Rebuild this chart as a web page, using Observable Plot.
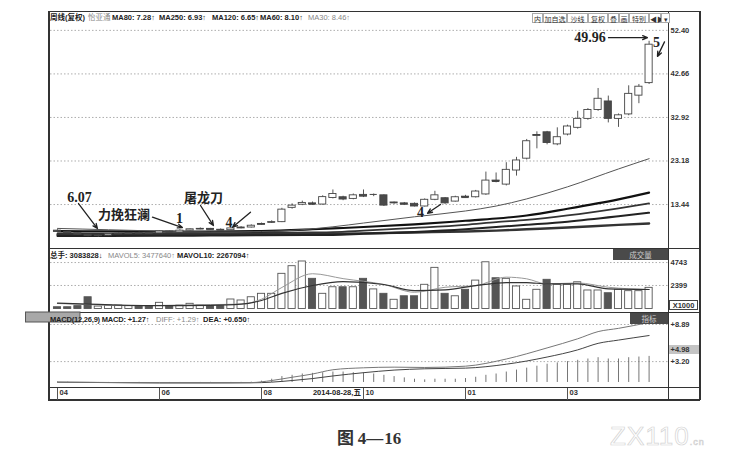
<!DOCTYPE html>
<html><head><meta charset="utf-8">
<script src="https://cdn.jsdelivr.net/npm/d3@7"></script>
<script src="https://cdn.jsdelivr.net/npm/@observablehq/plot@0.6"></script>
<style>
html,body{margin:0;padding:0;background:#fff;}
#wrap{position:relative;width:739px;height:463px;overflow:hidden;background:#fff;font-family:"Liberation Sans",Arial,"Noto Sans CJK SC",sans-serif;color:#222;}
.a{position:absolute;white-space:nowrap;z-index:2;}
.hdr{font-size:7.5px;font-weight:bold;line-height:9px;color:#222;}
.lt{font-weight:normal;color:#888;}
.ln{position:absolute;background:#333;z-index:0;}
.btn{position:absolute;top:13px;height:10px;border:1px solid #aaa;font-size:7px;line-height:10px;text-align:center;color:#333;font-family:"Noto Sans CJK SC",sans-serif;box-sizing:border-box;z-index:2;background:#fff;}
.panel{position:absolute;z-index:1;}
.panel svg{overflow:visible;}
</style></head><body><div id="wrap"></div>
<script>
// ---------- data ----------
const opens  = [7.6,7.3,7.0,6.7,6.4,6.5,6.8,6.9,7.1,7.05,7.0,7.4,7.2,7.6,7.9,8.0,7.8,7.7,8.1,8.3,8.9,9.4,9.5,12.7,13.4,13.7,13.44,14.9,15.07,14.7,15.6,15.7,15.5,13.7,13.7,13.6,13.0,14.5,14.85,14.1,15.2,15.07,15.7,18.8,17.9,21.05,23.7,28.8,29.6,26.9,29.1,30.6,32.6,34.6,36.5,32.6,33.6,37.8,40.6];
const closes = [7.3,7.0,6.7,6.4,6.5,6.8,6.9,7.1,7.0,6.95,7.4,7.2,7.6,7.9,8.0,7.8,7.7,8.1,8.3,8.7,9.1,9.5,12.3,13.2,13.8,13.5,15.1,15.8,14.56,15.5,15.2,15.7,13.2,13.9,13.5,13.0,14.5,15.5,13.7,15.07,15.0,16.35,18.8,18.6,21.2,23.3,27.6,29.0,27.2,28.5,30.9,32.6,34.6,37.1,32.6,33.4,38.2,39.8,49.2];
const highs  = [7.8,7.4,7.1,6.8,6.7,6.9,7.1,7.2,7.3,7.2,7.5,7.5,7.8,8.0,8.2,8.1,8.0,8.3,8.5,8.9,9.3,9.8,12.6,13.6,14.2,14.0,15.4,16.7,15.3,15.8,16.7,15.8,15.6,14.0,13.9,13.8,14.7,16.4,15.0,15.3,15.5,16.6,20.7,20.5,22.8,24.0,28.0,29.7,29.8,30.6,31.2,34.3,34.9,39.4,37.7,33.7,40.0,40.3,49.96];
const lows   = [7.2,6.9,6.5,6.2,6.07,6.4,6.7,6.8,6.9,6.8,6.9,7.1,7.1,7.5,7.8,7.7,7.6,7.6,8.0,8.2,8.8,9.2,9.4,12.4,13.2,13.3,13.3,14.7,14.3,14.5,15.0,15.2,13.0,13.5,13.3,12.9,12.9,14.3,13.5,14.0,14.9,14.9,15.5,18.3,17.6,19.8,23.4,25.9,26.8,26.6,28.8,30.3,32.3,34.3,31.7,30.7,33.3,36.0,40.3];
const volumes = [180,180,290,1200,250,350,350,290,250,250,630,250,350,530,350,290,290,970,870,1200,1550,1550,3590,4370,4850,3080,1550,2220,2220,2220,3080,2000,1550,940,1300,1300,2470,4200,1550,1300,1960,2900,4770,3140,3080,2300,940,1960,2980,2470,2470,2730,1890,1890,1610,1960,1820,1820,2160];
const macdHist = [0.05,0.04,-0.03,-0.05,-0.06,-0.04,-0.02,0,0.02,0,-0.02,-0.03,-0.01,0,0.01,0.02,0,0.01,0.02,0.05,0.2,0.5,0.9,1.1,1.3,1.4,1.5,1.6,1.6,1.5,1.5,1.3,1.1,0.9,0.7,0.5,0.4,0.5,0.5,0.5,0.6,0.8,1.1,1.3,1.6,1.9,2.2,2.5,2.8,3.0,3.2,3.4,3.6,3.8,3.6,3.6,3.8,3.9,4.0];

// moving averages at sample candles
const maIdx  = [0,5,10,15,20,25,27,30,35,40,43,46,50,55,58];
const ma30   = [8.1,7.8,7.5,7.3,7.4,8.0,8.46,9.3,10.7,12.0,13.1,14.7,17.4,21.4,23.7];
const ma60   = [7.5,7.45,7.4,7.4,7.5,7.9,8.1,8.4,9.0,9.8,10.3,11.0,12.5,14.6,16.1];
const ma80   = [7.0,7.0,7.0,7.05,7.1,7.2,7.28,7.6,8.2,8.9,9.5,10.0,11.0,12.6,13.7];
const ma120  = [6.4,6.42,6.45,6.5,6.55,6.62,6.65,6.9,7.3,7.9,8.4,8.9,9.6,10.8,11.6];
const ma250  = [6.7,6.72,6.75,6.8,6.85,6.9,6.93,7.0,7.2,7.4,7.6,7.9,8.3,8.9,9.2];

const volIdx  = [0,3,6,9,12,15,18,20,22,25,28,32,35,38,41,44,46,48,51,54,58];
const mavol5  = [560,450,350,350,400,450,500,1000,2200,3600,3100,2500,1710,2220,2390,3250,3080,2560,2660,2220,1990];
const mavol10 = [600,500,400,350,350,370,500,870,1600,2400,2800,2500,1880,1950,2390,2700,2700,2560,2560,2050,1990];

const difIdx = [0,5,10,15,19,21,23,25,27,30,33,36,40,44,48,51,53,55,58];
const diff   = [0.05,0,-0.08,-0.08,-0.02,0.3,0.8,1.3,1.95,2.25,2.35,2.3,2.5,3.6,5.3,6.7,7.8,8.3,9.2];
const deaIdx = [0,10,19,21,23,25,27,30,33,36,40,44,48,51,53,55,58];
const dea    = [0.05,-0.05,-0.05,0.05,0.3,0.6,1.0,1.5,1.9,2.1,2.2,2.8,3.9,5.0,6.0,6.5,7.2];

const priceTicks = [52.40,42.66,32.92,23.18,13.44];
const volTicks = [4743,2399];
const macdTicks = [8.89,4.98,3.20];
const monthIdx = [0,10,20,30,40,50];
const monthLabels = ["04","06","08","10","01","03"];
const cursorIdx = 27;
const cursorLabel = "2014-08-28,五";

const annoText = ["6.07","力挽狂澜","1","屠龙刀","4","4","49.96","5"];
const annoI = [2.16,6.52,11.96,14.31,16.81,35.59,52.21,58.73];
const annoV = [15.01,11.2,10.31,14.9,9.41,11.65,50.83,49.78];
const arrI1 = [2.06,9.31,14.02,18.92,37.55,54.02,59.51];
const arrV1 = [13.66,10.6,13.22,11.72,13.44,50.77,49.83];
const arrI2 = [3.92,12.25,15.29,17.16,36.27,57.84,58.82];
const arrV2 = [8.07,8.29,8.74,8.36,11.49,50.77,46.58];

// ---------- build ----------
const wrap = document.getElementById("wrap");
const N = opens.length;
const candles = opens.map((o,i)=>({i, o, c:closes[i], h:highs[i], l:lows[i], v:volumes[i], m:macdHist[i], down: closes[i] < o}));
const X = {type:"linear", domain:[-0.5, N-0.5], range:[3.9, 605.7]};
const font = "Liberation Sans, Arial, sans-serif";
const series = (idx, vals) => idx.map((i,k)=>({i, v: vals[k]}));

function place(el, left, top){
  const d = document.createElement("div");
  d.className = "panel"; d.style.left = left+"px"; d.style.top = top+"px";
  d.appendChild(el); wrap.appendChild(d); return el;
}
function div(cls, left, top, html, style){
  const d = document.createElement("div");
  d.className = cls; d.style.left = left+"px"; d.style.top = top+"px";
  if (style) Object.assign(d.style, style);
  d.innerHTML = html || ""; wrap.appendChild(d); return d;
}

// frame lines
div("ln",48,11,"",{width:"652px",height:"1px"});
div("ln",48,399,"",{width:"652px",height:"1.5px"});
div("ln",48,11,"",{width:"2px",height:"389px"});
div("ln",699,11,"",{width:"1.5px",height:"389px"});
div("ln",668,11,"",{width:"1px",height:"389px"});
div("ln",48,248,"",{width:"652px",height:"1px"});
div("ln",48,312,"",{width:"652px",height:"1px"});
div("ln",48,387,"",{width:"652px",height:"1px"});

// ---- main candlestick panel ----
const maDefs = [
  {vals:ma250, stroke:"#333", w:2.4},
  {vals:ma120, stroke:"#222", w:2},
  {vals:ma80,  stroke:"#333", w:1.7},
  {vals:ma60,  stroke:"#111", w:2.1},
  {vals:ma30,  stroke:"#555", w:1}
];
const dojis = candles.filter(d => Math.abs(d.o - d.c) < 0.25);
const annos = annoText.map((t,k)=>({t, i:annoI[k], v:annoV[k], cjk: /[\u4e00-\u9fff]/.test(t)}));
const arrows = arrI1.map((x,k)=>({x1:x, y1:arrV1[k], x2:arrI2[k], y2:arrV2[k]}));

const main = Plot.plot({
  width: 652, height: 237, marginLeft: 2, marginRight: 32, marginTop: 0, marginBottom: 0,
  style: {background:"transparent", fontFamily: font, overflow:"visible"},
  x: {...X, axis: null},
  y: {type:"linear", domain:[4.5,56.4], range:[233,1]},
  marks: [
    Plot.ruleY(priceTicks, {stroke:"#999", strokeDasharray:"1.5,2", strokeWidth:0.8}),
    Plot.axisY({anchor:"right", label: null, ticks: priceTicks, tickFormat: d => d.toFixed(2), tickSize: 0, tickPadding: 2, fontSize: 7.5, fontWeight: "bold", fill:"#333"}),
    ...maDefs.map(m => Plot.line(series(maIdx, m.vals), {x:"i", y:"v", stroke:m.stroke, strokeWidth:m.w, curve:"monotone-x"})),
    Plot.ruleX(candles, {x:"i", y1:"l", y2:"h", stroke:"#444", strokeWidth:0.9}),
    Plot.rect(candles, {x1: d => d.i - 0.35, x2: d => d.i + 0.35, y1:"o", y2:"c", fill: d => d.down ? "#4a4a4a" : "#fff", stroke:"#444", strokeWidth:0.9}),
    Plot.ruleY(dojis, {y:"c", x1: d => d.i - 0.35, x2: d => d.i + 0.35, stroke:"#444", strokeWidth:1}),
    Plot.arrow(arrows, {x1:"x1", y1:"y1", x2:"x2", y2:"y2", stroke:"#222", strokeWidth:1.3, headLength:6, headAngle:45}),
    Plot.text(annos.filter(d=>d.cjk), {x:"i", y:"v", text:"t", fontFamily:"Noto Sans CJK SC, sans-serif", fontWeight:"bold", fontSize:13, fill:"#222"}),
    Plot.text(annos.filter(d=>!d.cjk), {x:"i", y:"v", text:"t", fontFamily:"Liberation Serif, serif", fontWeight:"bold", fontSize:14, fill:"#222"})
  ]
});
place(main, 48, 11);

// ---- volume panel ----
const vol = Plot.plot({
  width: 652, height: 65, marginLeft: 2, marginRight: 32, marginTop: 0, marginBottom: 0,
  style: {background:"transparent", fontFamily: font, overflow:"visible"},
  x: {...X, axis: null},
  y: {type:"linear", domain:[0,5400], range:[60.5,7.6]},
  marks: [
    Plot.ruleY(volTicks, {stroke:"#999", strokeDasharray:"1.5,2", strokeWidth:0.8}),
    Plot.axisY({anchor:"right", label: null, ticks: volTicks, tickFormat: d => String(d), tickSize: 0, tickPadding: 2, fontSize: 7.5, fontWeight: "bold", fill:"#333"}),
    Plot.rect(candles, {x1: d => d.i - 0.35, x2: d => d.i + 0.35, y1: 0, y2:"v", fill: d => d.down ? "#555" : "#fff", stroke:"#555", strokeWidth:0.9}),
    Plot.line(series(volIdx, mavol5), {x:"i", y:"v", stroke:"#999", strokeWidth:1, curve:"monotone-x"}),
    Plot.line(series(volIdx, mavol10), {x:"i", y:"v", stroke:"#333", strokeWidth:1.2, curve:"monotone-x"})
  ]
});
place(vol, 48, 248);

// ---- MACD panel ----
const macd = Plot.plot({
  width: 652, height: 87, marginLeft: 2, marginRight: 32, marginTop: 0, marginBottom: 12,
  style: {background:"transparent", fontFamily: font, overflow:"visible"},
  x: {...X},
  y: {type:"linear", domain:[-1,10.5], range:[75.5,0.5]},
  marks: [
    Plot.ruleY([8.89,3.20], {stroke:"#999", strokeDasharray:"1.5,2", strokeWidth:0.8}),
    Plot.axisY({anchor:"right", label: null, ticks: macdTicks, tickFormat: d => "+" + d.toFixed(2), tickSize: 0, tickPadding: 2, fontSize: 7.5, fontWeight: "bold", fill:"#333"}),
    Plot.ruleX(candles, {x:"i", y1: 0, y2:"m", stroke:"#666", strokeWidth:0.9}),
    Plot.line(series(deaIdx, dea), {x:"i", y:"v", stroke:"#444", strokeWidth:1, curve:"monotone-x"}),
    Plot.line(series(difIdx, diff), {x:"i", y:"v", stroke:"#777", strokeWidth:1, curve:"monotone-x"}),
    Plot.axisX({anchor:"bottom", label: null, ticks: monthIdx, tickSize: 12, tickFormat: () => "", stroke:"#555"}),
    Plot.text(monthIdx.map((i,k)=>({i, t: monthLabels[k]})), {x:"i", text:"t", frameAnchor:"bottom", dy:6.5, dx:2, textAnchor:"start", fontSize:7.5, fontWeight:"bold", fill:"#333"}),
    Plot.text([{i: cursorIdx, t: cursorLabel}], {x:"i", text:"t", frameAnchor:"bottom", dy:6.5, dx:4, fontSize:7.5, fontWeight:"bold", fill:"#222", fontFamily:"Liberation Sans, Noto Sans CJK SC, sans-serif"})
  ]
});
place(macd, 48, 313);
// grey box behind the cursor date
d3.select(macd).selectAll("text").filter(function(){ return this.textContent === cursorLabel; }).each(function(){
  const b = this.getBBox();
  d3.select(this.parentNode).insert("rect", () => this).attr("x", b.x - 3).attr("y", b.y - 1).attr("width", b.width + 6).attr("height", b.height + 1).attr("fill", "#a8a8a8").attr("stroke", "#555");
});

// ---- header texts ----
div("a hdr",50,13,"周线(复权)");
div("a hdr lt",88,13,"怡亚通");
div("a hdr",112,13,"MA80: 7.28↑");
div("a hdr",159,13,"MA250: 6.93↑");
div("a hdr",212,13,"MA120: 6.65↑");
div("a hdr",260,13,"MA60: 8.10↑");
div("a hdr lt",308,13,"MA30: 8.46↑");

// toolbar
[["内",532,11],["加自选",543,24],["沙线",567,21],["复权",588,20],["叠",608,11],["画",619,10],["特别",629,20],["◀▶",649,12],["▾",661,9]]
  .forEach(([t,x,w]) => div("btn", x, 13, t, {width: w+"px"}));

div("a hdr",50,251,"总手: 3083828↓");
div("a hdr lt",108,251,"MAVOL5: 3477640↑");
div("a hdr",177,251,"MAVOL10: 2267094↑");
div("a",613,249,"成交量",{width:"55px",height:"11px",background:"#4a4a4a",color:"#ccc",fontSize:"7.5px",lineHeight:"11px",textAlign:"center",fontFamily:"Noto Sans CJK SC, sans-serif"});
div("a",669,300,"X1000",{width:"29px",height:"10px",border:"1px solid #444",boxSizing:"border-box",fontSize:"7.5px",lineHeight:"9px",fontWeight:"bold",color:"#333",textAlign:"center",background:"#fff"});

div("a hdr",50,315,"MACD(12,26,9) MACD: +1.27↑",{letterSpacing:"-0.2px"});
div("a hdr lt",156,315,"DIFF: +1.29↑");
div("a hdr",203,315,"DEA: +0.650↑");
div("a",630,313,"指标",{width:"38px",height:"11px",background:"#4a4a4a",color:"#ccc",fontSize:"7.5px",lineHeight:"11px",textAlign:"center",fontFamily:"Noto Sans CJK SC, sans-serif"});
div("",669,345,"",{position:"absolute",width:"30px",height:"9px",background:"#c4c4c4",zIndex:0});

// caption & watermark
div("a",337,424,"图 <span style=\"font-family:'Liberation Serif',serif\">4<span style=\"letter-spacing:1px\">—</span>16</span>",{fontSize:"17px",fontWeight:"bold",color:"#333",fontFamily:"'Noto Sans CJK SC',sans-serif"});
div("a",610,421,"ZX110<span style=\"font-size:9px\">.cn</span>",{fontSize:"26px",color:"transparent",webkitTextStroke:"0.7px #d4d4d4",fontFamily:"'Liberation Sans',sans-serif",letterSpacing:"1px"});
</script>
</body></html>
